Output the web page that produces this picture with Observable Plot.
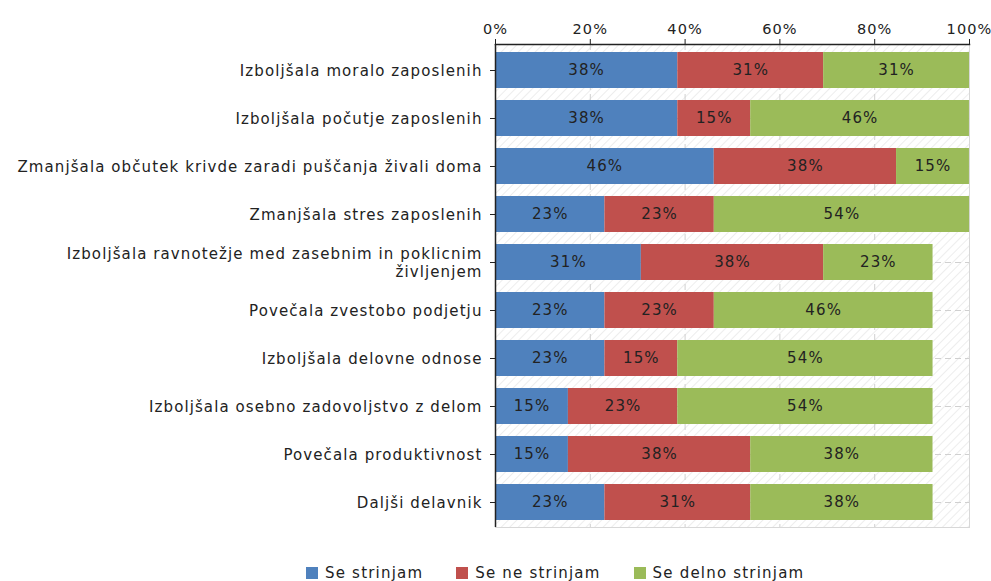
<!DOCTYPE html>
<html>
<head>
<meta charset="utf-8">
<script src="https://cdn.jsdelivr.net/npm/d3@7"></script>
<script src="https://cdn.jsdelivr.net/npm/@observablehq/plot@0.6"></script>
<style>
  body { margin: 0; background: #fff; font-family: "DejaVu Sans", sans-serif; }
  #legend { display: flex; padding-left: 306px; margin-top: 4px; font-size: 15px; letter-spacing: 1.2px; color: #222; }
  #legend .item { display: flex; align-items: center; margin-right: 33px; }
  #legend .sw { width: 12px; height: 12px; margin-right: 7px; }
</style>
</head>
<body>
<div id="chart"></div>
<div id="legend"></div>
<script>
const categories = [
  "Izboljšala moralo zaposlenih",
  "Izboljšala počutje zaposlenih",
  "Zmanjšala občutek krivde zaradi puščanja živali doma",
  "Zmanjšala stres zaposlenih",
  "Izboljšala ravnotežje med zasebnim in poklicnim\nživljenjem",
  "Povečala zvestobo podjetju",
  "Izboljšala delovne odnose",
  "Izboljšala osebno zadovoljstvo z delom",
  "Povečala produktivnost",
  "Daljši delavnik"
];
const seriesNames = ["Se strinjam", "Se ne strinjam", "Se delno strinjam"];
const seStrinjam     = [38.46, 38.46, 46.15, 23.08, 30.77, 23.08, 23.08, 15.38, 15.38, 23.08];
const seNeStrinjam   = [30.77, 15.38, 38.46, 23.08, 38.46, 23.08, 15.38, 23.08, 38.46, 30.77];
const seDelnoStrinjam= [30.77, 46.15, 15.38, 53.85, 23.08, 46.15, 53.85, 53.85, 38.46, 38.46];
const xTicks = [0, 20, 40, 60, 80, 100];
const colors = ["#4F81BD", "#C0504D", "#9BBB59"];

const seriesValues = [seStrinjam, seNeStrinjam, seDelnoStrinjam];
const data = [];
categories.forEach((c, i) => {
  seriesNames.forEach((s, j) => data.push({q: c, series: s, value: seriesValues[j][i]}));
});

const plot = Plot.plot({
  width: 991,
  height: 560,
  marginLeft: 495,
  marginRight: 22,
  marginTop: 44,
  marginBottom: 33,
  style: {fontFamily: "DejaVu Sans, sans-serif", fontSize: "15px", letterSpacing: "1.1px", color: "#222", background: "#fff"},
  x: {domain: [0, 100], axis: null, label: null},
  y: {domain: categories, axis: null, label: null, paddingInner: 0.25, paddingOuter: 0.125},
  color: {domain: seriesNames, range: colors},
  marks: [
    Plot.frame({fill: "url(#hatch)", stroke: "#d8d8d8"}),
    Plot.gridX(xTicks.slice(1, -1), {stroke: "#d0d0d0", strokeOpacity: 1, strokeDasharray: "6,4"}),
    Plot.gridY(categories, {stroke: "#d0d0d0", strokeOpacity: 1, strokeDasharray: "6,4"}),
    Plot.ruleY([0], {frameAnchor: "bottom", stroke: "#d0d0d0", strokeDasharray: "6,4"}),
    Plot.barX(data, Plot.stackX({x: "value", y: "q", fill: "series"})),
    Plot.textX(data, Plot.stackX({x: "value", y: "q", z: "series", text: d => Math.round(d.value) + "%", fill: "#222", fontSize: 15})),
    Plot.ruleX([0], {stroke: "#222", strokeWidth: 1.5}),
    Plot.frame({anchor: "top", stroke: "#222", strokeWidth: 1.5}),
    Plot.axisX(xTicks, {anchor: "top", label: null, tickSize: 6, tickPadding: 5, tickFormat: d => d + "%", fontSize: 14.5, stroke: "#222", fill: "#222"}),
    Plot.axisY(categories, {anchor: "left", label: null, tickSize: 5, tickPadding: 8, fontSize: 15, lineHeight: 1.15, stroke: "#222", fill: "#222", textAnchor: "end"})
  ]
});

d3.select(plot).insert("defs", ":first-child").html(
  `<pattern id="hatch" patternUnits="userSpaceOnUse" width="6" height="6" patternTransform="rotate(45)">
     <rect width="6" height="6" fill="#ffffff"/>
     <line x1="0" y1="0" x2="0" y2="6" stroke="#e8e8e8" stroke-width="1.5"/>
   </pattern>`
);
document.getElementById("chart").appendChild(plot);

const legend = document.getElementById("legend");
seriesNames.forEach((s, i) => {
  const it = document.createElement("div");
  it.className = "item";
  it.innerHTML = `<span class="sw" style="background:${colors[i]}"></span><span>${s}</span>`;
  legend.appendChild(it);
});
</script>
</body>
</html>
